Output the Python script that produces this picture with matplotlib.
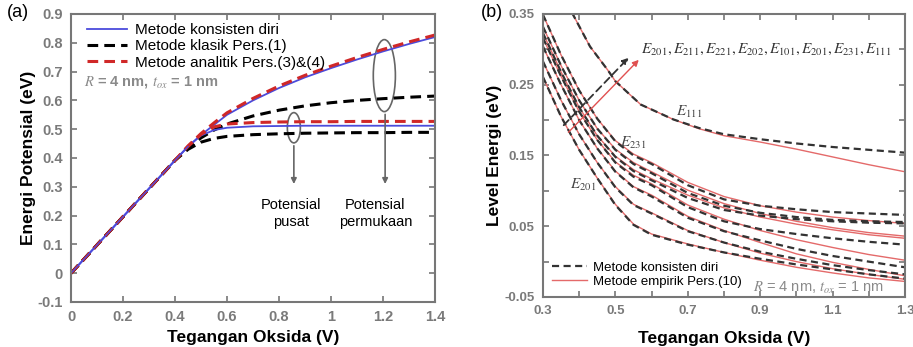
import numpy as np
import matplotlib.pyplot as plt
from matplotlib.patches import Ellipse

plt.rcParams['font.family'] = ['Liberation Sans', 'DejaVu Sans']
plt.rcParams['mathtext.fontset'] = 'stix'

# ---------------- panel (a) data ----------------
va = [0, 0.1, 0.2, 0.3, 0.4, 0.45, 0.5, 0.55, 0.6, 0.7, 0.8, 0.9, 1.0, 1.1, 1.2, 1.3, 1.4]
surf_sc = [0, 0.098, 0.196, 0.294, 0.392, 0.44, 0.48, 0.515, 0.55, 0.600, 0.643, 0.680, 0.712, 0.742, 0.770, 0.796, 0.820]
surf_an = [0, 0.098, 0.196, 0.294, 0.392, 0.442, 0.485, 0.522, 0.557, 0.607, 0.650, 0.687, 0.719, 0.749, 0.777, 0.803, 0.827]
surf_kl = [0, 0.098, 0.196, 0.294, 0.392, 0.435, 0.47, 0.497, 0.518, 0.546, 0.566, 0.581, 0.592, 0.600, 0.606, 0.611, 0.615]
cent_sc = [0, 0.098, 0.196, 0.294, 0.392, 0.44, 0.478, 0.497, 0.505, 0.510, 0.511, 0.512, 0.512, 0.512, 0.512, 0.512, 0.512]
cent_an = [0, 0.098, 0.196, 0.294, 0.392, 0.44, 0.482, 0.508, 0.518, 0.523, 0.525, 0.526, 0.526, 0.527, 0.527, 0.527, 0.527]
cent_kl = [0, 0.098, 0.196, 0.294, 0.392, 0.43, 0.455, 0.468, 0.475, 0.481, 0.484, 0.486, 0.487, 0.488, 0.488, 0.489, 0.489]

# ---------------- panel (b) data ----------------
vb = [0.30, 0.35, 0.40, 0.45, 0.50, 0.55, 0.60, 0.70, 0.80, 0.90, 1.00, 1.10, 1.20, 1.30]
lev_sc = [
    [0.349, 0.292, 0.242, 0.202, 0.170, 0.150, 0.138, 0.108, 0.088, 0.079, 0.074, 0.070, 0.068, 0.066],
    [0.332, 0.277, 0.228, 0.188, 0.158, 0.138, 0.125, 0.097, 0.079, 0.069, 0.063, 0.059, 0.057, 0.056],
    [0.323, 0.268, 0.218, 0.178, 0.148, 0.128, 0.115, 0.090, 0.073, 0.065, 0.060, 0.057, 0.055, 0.054],
    [0.316, 0.262, 0.212, 0.172, 0.140, 0.120, 0.108, 0.077, 0.057, 0.046, 0.039, 0.033, 0.028, 0.024],
    [0.304, 0.250, 0.200, 0.160, 0.127, 0.105, 0.092, 0.062, 0.043, 0.030, 0.018, 0.008, 0.000, -0.008],
    [0.283, 0.228, 0.180, 0.140, 0.105, 0.080, 0.068, 0.043, 0.027, 0.014, 0.004, -0.005, -0.012, -0.018],
    [0.261, 0.205, 0.158, 0.118, 0.080, 0.052, 0.038, 0.024, 0.013, 0.004, -0.004, -0.011, -0.018, -0.024],
]
lev_emp = [
    [0.349, 0.292, 0.242, 0.202, 0.171, 0.152, 0.140, 0.112, 0.092, 0.079, 0.070, 0.063, 0.058, 0.054],
    [0.332, 0.277, 0.228, 0.188, 0.159, 0.140, 0.127, 0.101, 0.082, 0.068, 0.057, 0.048, 0.041, 0.036],
    [0.323, 0.268, 0.218, 0.178, 0.149, 0.130, 0.117, 0.094, 0.076, 0.063, 0.053, 0.045, 0.038, 0.033],
    [0.316, 0.262, 0.212, 0.172, 0.141, 0.122, 0.110, 0.080, 0.060, 0.044, 0.031, 0.020, 0.010, 0.002],
    [0.304, 0.250, 0.200, 0.160, 0.128, 0.106, 0.094, 0.064, 0.044, 0.027, 0.011, -0.001, -0.011, -0.020],
    [0.283, 0.228, 0.180, 0.140, 0.106, 0.081, 0.069, 0.044, 0.027, 0.012, 0.000, -0.010, -0.018, -0.025],
    [0.261, 0.205, 0.158, 0.118, 0.081, 0.053, 0.039, 0.025, 0.013, 0.002, -0.008, -0.016, -0.023, -0.028],
]
v111 = [0.38, 0.43, 0.48, 0.50, 0.57, 0.66, 0.73, 0.80, 0.90, 1.00, 1.10, 1.20, 1.30]
e111_sc = [0.352, 0.304, 0.270, 0.255, 0.222, 0.201, 0.189, 0.180, 0.173, 0.167, 0.162, 0.158, 0.154]
e111_emp = [0.352, 0.304, 0.270, 0.255, 0.222, 0.201, 0.188, 0.178, 0.169, 0.159, 0.148, 0.137, 0.127]

gray = '#7a7a7a'

fig = plt.figure(figsize=(9.13, 3.47), dpi=100)
ax1 = fig.add_axes([0.0778, 0.1297, 0.3987, 0.830])
ax2 = fig.add_axes([0.5947, 0.1441, 0.3965, 0.8156])

def style(ax):
    for s in ax.spines.values():
        s.set_color('#777777')
        s.set_linewidth(1.5)
    ax.tick_params(direction='in', top=True, right=True, length=4, width=1.2,
                   color='#777777', labelcolor=gray, labelsize=10.5, pad=6)
    for lab in ax.get_xticklabels() + ax.get_yticklabels():
        lab.set_fontweight('bold')

# ---------- (a) ----------
ax1.plot(va, surf_sc, color='#4b4bdc', lw=1.3, label='Metode konsisten diri')
ax1.plot(va, surf_kl, color='black', lw=2.2, dashes=(3.5, 2), label='Metode klasik Pers.(1)')
ax1.plot(va, surf_an, color='#d02828', lw=2.2, dashes=(3.5, 2), label='Metode analitik Pers.(3)&(4)')
ax1.plot(va, cent_sc, color='#4b4bdc', lw=1.3)
ax1.plot(va, cent_kl, color='black', lw=2.2, dashes=(3.5, 2))
ax1.plot(va, cent_an, color='#d02828', lw=2.2, dashes=(3.5, 2))
ax1.plot(va[:6], surf_sc[:6], color='#4b4bdc', lw=1.0)

ax1.add_patch(Ellipse((0.857, 0.505), 0.05, 0.105, fill=False, ec='#666666', lw=1.2))
ax1.add_patch(Ellipse((1.205, 0.686), 0.085, 0.25, fill=False, ec='#666666', lw=1.2))
arr = dict(arrowstyle='-|>', color='#666666', lw=1.2, mutation_scale=8)
ax1.annotate('', xy=(0.857, 0.30), xytext=(0.857, 0.452), arrowprops=arr)
ax1.annotate('', xy=(1.208, 0.30), xytext=(1.208, 0.561), arrowprops=arr)
ax1.text(0.845, 0.207, 'Potensial\npusat', ha='center', va='center', fontsize=10.5, linespacing=1.3)
ax1.text(1.17, 0.207, 'Potensial\npermukaan', ha='center', va='center', fontsize=10.5, linespacing=1.3)
ax1.text(0.05, 0.665, r'$R$ = 4 nm, $t_{ox}$ = 1 nm', color='#8a8a8a', fontsize=10.5,
         fontweight='bold', va='center')

ax1.legend(loc='upper left', frameon=False, fontsize=11, handlelength=2.6,
           borderaxespad=0.2, labelspacing=0.15, handletextpad=0.5,
           bbox_to_anchor=(0.02, 1.0))
ax1.set_xlim(0, 1.4)
ax1.set_ylim(-0.1, 0.9)
ax1.set_xticks(np.arange(0, 1.41, 0.2))
ax1.set_xticklabels(['0', '0.2', '0.4', '0.6', '0.8', '1', '1.2', '1.4'])
ax1.set_yticks(np.arange(-0.1, 0.91, 0.1))
ax1.set_yticklabels(['-0.1', '0', '0.1', '0.2', '0.3', '0.4', '0.5', '0.6', '0.7', '0.8', '0.9'])
ax1.set_xlabel('Tegangan Oksida (V)', fontsize=12.5, fontweight='bold', labelpad=4)
ax1.set_ylabel('Energi Potensial (eV)', fontsize=12.5, fontweight='bold', labelpad=1)
style(ax1)
fig.text(0.008, 0.95, '(a)', fontsize=13)

# ---------- (b) ----------
for k in range(len(lev_sc)):
    ax2.plot(vb, lev_emp[k], color='#e46a6a', lw=1.0)
    ax2.plot(vb, lev_sc[k], color='#333333', lw=1.6, dashes=(3.2, 2))
ax2.plot(v111, e111_emp, color='#e46a6a', lw=1.0)
ax2.plot(v111, e111_sc, color='#333333', lw=1.6, dashes=(3.2, 2))
# legend handles
ax2.plot([], [], color='#333333', lw=1.6, dashes=(3.2, 2), label='Metode konsisten diri')
ax2.plot([], [], color='#e46a6a', lw=1.0, label='Metode empirik Pers.(10)')
ax2.legend(loc='lower left', frameon=False, fontsize=9.5, handlelength=2.6,
           borderaxespad=0.3, labelspacing=0.15, handletextpad=0.5)

ax2.annotate('', xy=(0.542, 0.291), xytext=(0.352, 0.19),
             arrowprops=dict(arrowstyle='-|>', color='#333333', lw=1.3, ls=(0, (4, 2.5)),
                             mutation_scale=9))
ax2.annotate('', xy=(0.57, 0.288), xytext=(0.365, 0.18),
             arrowprops=dict(arrowstyle='-|>', color='#e05050', lw=1.0, mutation_scale=9))
ax2.text(0.57, 0.300, r'$E_{201}, E_{211}, E_{221}, E_{202}, E_{101}, E_{201}, E_{231}, E_{111}$',
         fontsize=11, color='#333333', va='center')
ax2.text(0.705, 0.212, r'$E_{111}$', fontsize=11, color='#444444', ha='center', va='center')
ax2.text(0.548, 0.168, r'$E_{231}$', fontsize=11, color='#444444', ha='center', va='center')
ax2.text(0.41, 0.108, r'$E_{201}$', fontsize=11, color='#444444', ha='center', va='center')
ax2.text(0.88, -0.037, r'$R$ = 4 nm, $t_{ox}$ = 1 nm', color='#8a8a8a', fontsize=10.5, va='center')

ax2.set_xlim(0.3, 1.3)
ax2.set_ylim(-0.05, 0.35)
ax2.set_xticks(np.arange(0.3, 1.31, 0.2))
ax2.set_xticklabels(['0.3', '0.5', '0.7', '0.9', '1.1', '1.3'])
ax2.set_xticks(np.arange(0.4, 1.3, 0.2), minor=True)
ax2.set_yticks(np.arange(-0.05, 0.351, 0.1))
ax2.set_yticklabels(['-0.05', '0.05', '0.15', '0.25', '0.35'])
ax2.set_yticks(np.arange(0.0, 0.31, 0.1), minor=True)
ax2.tick_params(which='minor', direction='in', top=True, right=True, length=4, width=1.2,
                color='#777777')
ax2.set_xlabel('Tegangan Oksida (V)', fontsize=12.5, fontweight='bold', labelpad=10)
ax2.set_ylabel('Level Energi (eV)', fontsize=12.5, fontweight='bold', labelpad=2)
style(ax2)
ax2.tick_params(labelsize=9.5)
fig.text(0.527, 0.95, '(b)', fontsize=13)

fig.savefig('out.png', dpi=100)
